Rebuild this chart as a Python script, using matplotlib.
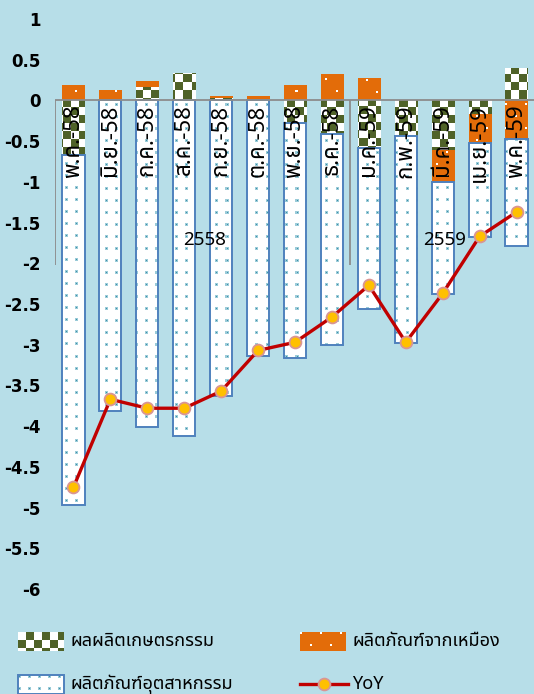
import numpy as np
import matplotlib
matplotlib.use('Agg')
import matplotlib.pyplot as plt
from matplotlib import font_manager
from matplotlib.ft2font import FT2Font
from matplotlib.patches import Rectangle

# data (% contribution, YoY)
months = ['พ.ค.-58', 'มิ.ย.-58', 'ก.ค.-58', 'ส.ค.-58', 'ก.ย.-58', 'ต.ค.-58', 'พ.ย.-58',
          'ธ.ค.-58', 'ม.ค.-59', 'ก.พ.-59', 'มี.ค.-59', 'เม.ย.-59', 'พ.ค.-59']
years = ['2558', '2559']
year_first = [0, 8]
year_last = [7, 12]
agri = [-0.67, 0.0, 0.16, 0.34, 0.03, 0.0, -0.28, -0.41, -0.59, -0.44, -0.61, -0.17, 0.40]
mining = [0.19, 0.13, 0.08, 0.0, 0.03, 0.06, 0.19, 0.32, 0.27, 0.0, -0.39, -0.35, -0.47]
industry = [-4.30, -3.81, -4.01, -4.12, -3.63, -3.14, -2.88, -2.59, -1.97, -2.54, -1.38, -1.16, -1.32]
yoy = [-4.75, -3.67, -3.78, -3.78, -3.57, -3.07, -2.97, -2.66, -2.27, -2.97, -2.37, -1.67, -1.37]
series_names = ['ผลผลิตเกษตรกรรม', 'ผลิตภัณฑ์จากเหมือง', 'ผลิตภัณฑ์อุตสาหกรรม', 'YoY']
yticks = np.arange(-6, 1.01, 0.5)

BG = '#B7DEE8'
GREEN = np.array([0x4F, 0x62, 0x28]) / 255
ORANGE = np.array([0xE3, 0x6C, 0x09]) / 255
TEAL = np.array([0x3E, 0x8E, 0xA6]) / 255
TEAL_LT = np.array([0x9A, 0xCB, 0xD8]) / 255
EDGE = '#4F81BD'


def find_thai_font():
    names = []
    for f in font_manager.fontManager.ttflist:
        try:
            if ord('ก') in FT2Font(f.fname).get_charmap():
                names.append(f.name)
        except Exception:
            pass
    for pref in ['Noto Sans Thai', 'Noto Sans Thai UI', 'Loma', 'Garuda', 'Sarabun', 'Tlwg Typo', 'Kinnari']:
        if pref in names:
            return pref
    return names[0] if names else 'DejaVu Sans'


thai = find_thai_font()


def pattern(kind, h, w):
    yy, xx = np.mgrid[0:h, 0:w]
    img = np.ones((h, w, 3))
    if kind == 'agri':
        img[((yy // 8 + xx // 8) % 2) == 1] = GREEN
    elif kind == 'mine':
        img[:] = ORANGE
        off = ((yy // 12) % 2) * 10
        img[((yy % 12) < 2) & (((xx + off) % 20) < 2)] = 1.0
    else:
        img[((yy % 12) < 3) & ((xx % 10) < 3)] = TEAL_LT
        img[((yy % 12) == 1) & ((xx % 10) == 1)] = TEAL
    return img


W, H = 534, 694
fig = plt.figure(figsize=(W / 100, H / 100), dpi=100, facecolor=BG)
ax_l, ax_r, ax_t, ax_b = 55, 535, 19, 589
ax = fig.add_axes([ax_l / W, 1 - ax_b / H, (ax_r - ax_l) / W, (ax_b - ax_t) / H])
ax.set_facecolor(BG)
ax.set_xlim(-0.5, len(months) - 0.5)
ax.set_ylim(-6, 1)
for s in ax.spines.values():
    s.set_visible(False)

x = np.arange(len(months))
pos = np.zeros(len(months))
neg = np.zeros(len(months))
ext = (-0.5, len(months) - 0.5, -6, 1)
for vals, kind in [(agri, 'agri'), (mining, 'mine'), (industry, 'ind')]:
    vals = np.array(vals)
    bottom = np.where(vals >= 0, pos, neg)
    edge = EDGE if kind == 'ind' else 'none'
    bars = ax.bar(x, vals, 0.6, bottom=bottom, facecolor='none', edgecolor=edge,
                  linewidth=1.4, zorder=3)
    img = pattern(kind, ax_b - ax_t, ax_r - ax_l)
    for b, v in zip(bars, vals):
        if v == 0:
            continue
        im = ax.imshow(img, extent=ext, aspect='auto', interpolation='nearest', zorder=2)
        im.set_clip_path(b)
    pos = pos + np.where(vals >= 0, vals, 0)
    neg = neg + np.where(vals < 0, vals, 0)

ax.axhline(0, color='#8C8C8C', lw=1.3, zorder=4)
ax.vlines([-0.5, 7.5], -2.02, 0, color='#8C8C8C', lw=1.3, zorder=4)

for i, m in enumerate(months):
    ax.text(i, -0.05, m, rotation=90, ha='center', va='top', fontsize=16,
            family=[thai, 'DejaVu Sans'], zorder=5)
for yr, a, b in zip(years, year_first, year_last):
    ax.text((a + b) / 2 + 0.05, -1.72, yr, ha='center', va='center', fontsize=13.5,
            family=[thai, 'DejaVu Sans'], zorder=5)

ax.plot(x, yoy, color='#C00000', lw=2.4, marker='o', ms=8.5, mfc='#FFC000',
        mec='#D99594', mew=1.3, zorder=6)

ax.set_xticks([])
ax.set_yticks(yticks)
ax.set_yticklabels([f'{v:g}' for v in yticks], fontsize=12, fontweight='bold')
ax.tick_params(axis='y', length=0, pad=10.5)
ax.set_ylim(-6, 1)

# legend drawn in figure pixel coords
lax = fig.add_axes([0, 0, 1, 1])
lax.set_xlim(0, W)
lax.set_ylim(H, 0)
lax.axis('off')
entries = [('agri', 18, 632, series_names[0]), ('mine', 300, 632, series_names[1]),
           ('ind', 18, 675, series_names[2])]
for kind, x0, y0, name in entries:
    pw, ph = 46, 19
    lax.imshow(pattern(kind, ph, pw), extent=(x0, x0 + pw, y0 + ph, y0),
               aspect='auto', interpolation='nearest', zorder=2)
    if kind == 'ind':
        lax.add_patch(Rectangle((x0, y0), pw, ph, fill=False, ec=EDGE, lw=1.4, zorder=3))
    lax.text(x0 + 52, y0 + 9.5, name, va='center', ha='left', fontsize=13,
             family=[thai, 'DejaVu Sans'])
lax.plot([300, 348], [684, 684], color='#C00000', lw=2.4, zorder=3)
lax.plot([324], [684], 'o', ms=8.5, mfc='#FFC000', mec='#D99594', mew=1.3, zorder=4)
lax.text(352, 684, series_names[3], va='center', ha='left', fontsize=13,
         family=[thai, 'DejaVu Sans'])
lax.set_xlim(0, W)
lax.set_ylim(H, 0)

fig.savefig('out.png', dpi=100, facecolor=BG)
